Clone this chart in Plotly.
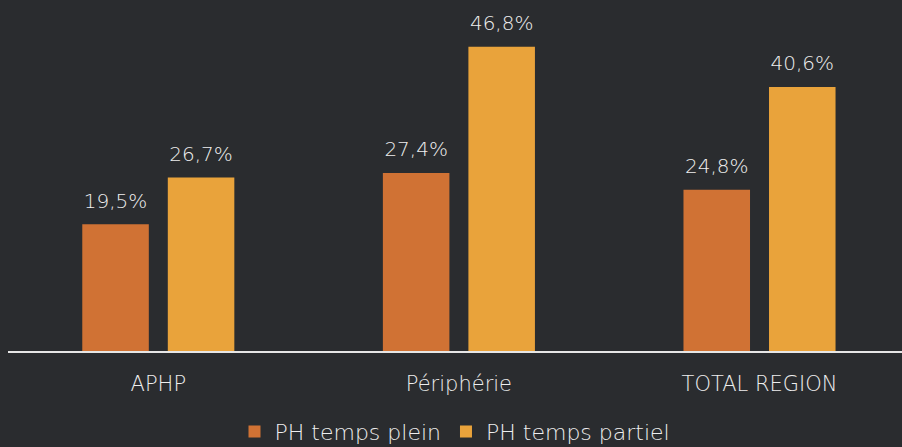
import plotly.graph_objects as go

categories = ["APHP", "Périphérie", "TOTAL REGION"]
plein = [19.5, 27.4, 24.8]
partiel = [26.7, 46.8, 40.6]
series_names = ["PH temps plein", "PH temps partiel"]
colors = ["#d07234", "#e9a33b"]

def fmt(v):
    return f"{v:.1f}%".replace(".", ",")

FONT = "DejaVu Sans"
W = 200

fig = go.Figure()
for name, vals, col in zip(series_names, [plein, partiel], colors):
    fig.add_trace(go.Bar(
        x=categories, y=vals, name=name,
        marker=dict(color=col, line=dict(width=0)),
        text=[f"<span style='font-size:20px'>{fmt(v)}</span><br> " for v in vals],
        textposition="outside",
        textfont=dict(color="#eeeeee", size=9, family=FONT, weight=W),
        cliponaxis=False,
    ))

fig.update_layout(
    width=902, height=447,
    margin=dict(l=8, r=0, t=26, b=96),
    paper_bgcolor="#2a2c2f", plot_bgcolor="#2a2c2f",
    barmode="group", bargap=0.431, bargroupgap=0.222,
    font=dict(family=FONT, color="#eeeeee", weight=W),
    showlegend=True,
    legend=dict(orientation="h", x=0.5, xanchor="center",
                yref="container", y=0.034, yanchor="middle",
                font=dict(size=22, color="#eeeeee", family=FONT, weight=W),
                bgcolor="rgba(0,0,0,0)", itemclick=False, borderwidth=0),
    xaxis=dict(range=[-0.5, 2.474], showline=True, linecolor="#e6e6e6", linewidth=2,
               showgrid=False, ticks="", tickfont=dict(size=21, color="#eeeeee", family=FONT, weight=W),
               ticklabelstandoff=13, automargin=False),
    yaxis=dict(range=[0, 50], visible=False, showgrid=False, zeroline=False, automargin=False),
)

fig.write_html("out.html", config={"displayModeBar": False})

with open("out.html", "r", encoding="utf-8") as f:
    html = f.read()
html = html.replace("<head>", "<head><style>html,body{margin:0;padding:0;overflow:hidden;}</style>", 1)
with open("out.html", "w", encoding="utf-8") as f:
    f.write(html)
